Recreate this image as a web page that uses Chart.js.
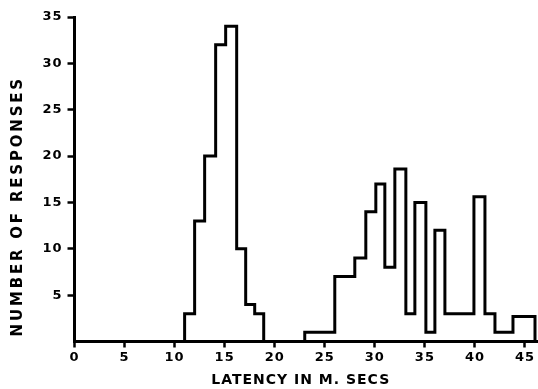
<!DOCTYPE html>
<html><head><meta charset="utf-8">
<script src="https://cdn.jsdelivr.net/npm/chart.js@4.4.1/dist/chart.umd.min.js"></script>
<style>html,body{margin:0;padding:0;background:#fff;}</style>
</head><body>
<canvas id="c" width="538" height="389"></canvas>
<script>
// Early-latency group: bin edges (ms) and response counts
const earlyEdges  = [11, 12, 13, 14.1, 15.1, 16.2, 17.1, 18, 18.9];
const earlyCounts = [3, 13, 20, 32, 34, 10, 4, 3];
// Late-latency group: bin edges (ms) and response counts
const lateEdges  = [23, 26, 28, 29.1, 30.1, 31, 32, 33.1, 34, 35.1, 36, 37, 39.9, 41, 42, 43.8, 46];
const lateCounts = [1, 7, 9, 14, 17, 8, 18.6, 3, 15, 1, 12, 3, 15.6, 3, 1, 2.7];
// Axis ticks / titles
const xTicks = [0, 5, 10, 15, 20, 25, 30, 35, 40, 45];
const yTicks = [5, 10, 15, 20, 25, 30, 35];
const xTitle = 'LATENCY IN M. SECS';
const yTitle = 'NUMBER OF RESPONSES';

function stepPoints(edges, counts) {
  const pts = [{x: edges[0], y: 0}];
  counts.forEach((c, i) => pts.push({x: edges[i], y: c}));
  pts.push({x: edges[edges.length - 1], y: 0});
  return pts;
}

const FONT = "'DejaVu Sans', sans-serif";
const tweaks = {x: {spacing: '1px', dx: -5, dy: 0}, y: {spacing: '2.8px', dx: 0, dy: 27}};
const titleTweak = {
  id: 'titleTweak',
  beforeDraw(chart) {
    for (const id of ['x', 'y']) {
      const s = chart.scales[id];
      if (!s || s._tw) continue;
      const origT = s.drawTitle, origL = s.drawLabels;
      s.drawTitle = function () {
        const ctx = this.ctx; ctx.save();
        ctx.letterSpacing = tweaks[id].spacing;
        ctx.translate(tweaks[id].dx, tweaks[id].dy);
        origT.apply(this, arguments); ctx.restore();
      };
      s.drawLabels = function () {
        const ctx = this.ctx; ctx.save();
        ctx.letterSpacing = '1px';
        origL.apply(this, arguments); ctx.restore();
      };
      s._tw = true;
    }
  }
};

const lineStyle = {borderColor: '#000', borderWidth: 3, pointRadius: 0, stepped: 'before', fill: false, tension: 0, borderJoinStyle: 'miter'};

new Chart(document.getElementById('c'), {
  type: 'line',
  data: {
    datasets: [
      Object.assign({label: 'early', data: stepPoints(earlyEdges, earlyCounts)}, lineStyle),
      Object.assign({label: 'late', data: stepPoints(lateEdges, lateCounts)}, lineStyle)
    ]
  },
  options: {
    responsive: false,
    animation: false,
    devicePixelRatio: 1,
    layout: {padding: {top: 17, right: 1, bottom: 0, left: 0}},
    plugins: {legend: {display: false}, tooltip: {enabled: false}},
    scales: {
      x: {
        type: 'linear', min: 0, max: 46.2,
        afterFit(s) { s.height = 47.5; },
        afterBuildTicks(s) { s.ticks = xTicks.map(v => ({value: v})); },
        ticks: {color: '#000', font: {family: FONT, size: 13, weight: 'bold'}, padding: 2, maxRotation: 0, autoSkip: false},
        grid: {display: true, drawOnChartArea: false, drawTicks: true, tickLength: 6, tickWidth: 2.5, tickColor: '#000'},
        border: {display: true, color: '#000', width: 3},
        title: {display: true, text: xTitle, color: '#000', font: {family: FONT, size: 14, weight: 'bold'}, padding: {top: 0, bottom: 0}}
      },
      y: {
        type: 'linear', min: 0, max: 35,
        afterFit(s) { s.width = 74.5; },
        afterBuildTicks(s) { s.ticks = yTicks.map(v => ({value: v})); },
        ticks: {color: '#000', font: {family: FONT, size: 13, weight: 'bold'}, padding: 5, autoSkip: false},
        grid: {display: true, drawOnChartArea: false, drawTicks: true, tickLength: 7, tickWidth: 2.5, tickColor: '#000'},
        border: {display: true, color: '#000', width: 3},
        title: {display: true, text: yTitle, color: '#000', font: {family: FONT, size: 15, weight: 'bold'}, padding: {top: 9.5, bottom: 0}}
      }
    }
  },
  plugins: [titleTweak]
});
</script>
</body></html>
